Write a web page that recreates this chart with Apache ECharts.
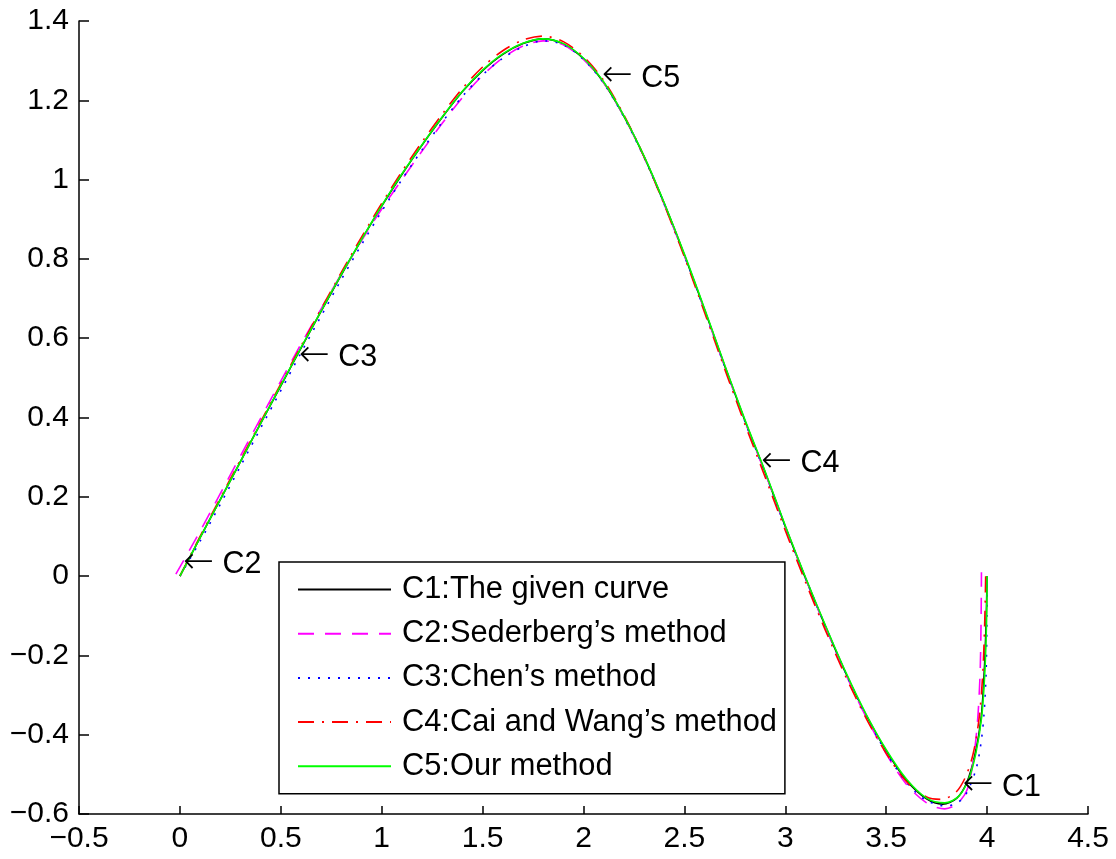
<!DOCTYPE html>
<html>
<head>
<meta charset="utf-8">
<script src="https://cdn.jsdelivr.net/npm/echarts@6/dist/echarts.min.js"></script>
<style>
html,body{margin:0;padding:0;background:#fff;}
#chart{width:1116px;height:859px;}
</style>
</head>
<body>
<div id="chart"></div>
<script>
// ---- data ----
var seriesNames = ["C1:The given curve", "C2:Sederberg\u2019s method", "C3:Chen\u2019s method", "C4:Cai and Wang\u2019s method", "C5:Our method"];

var c1X = [0,0.1,0.2,0.3,0.4,0.5,0.6,0.7,0.8,0.9,1.0,1.1,1.2,1.3,1.4,1.5,1.6,1.7,1.8,1.9,2.0,2.1,2.2,2.3,2.4,2.5,2.6,2.7,2.8,2.9,3.0,3.1,3.2,3.3,3.4,3.5,3.6,3.7,3.78,3.85,3.9,3.94,3.97,3.985,3.995,4.0];
var c1Y = [0,0.097,0.193,0.289,0.385,0.48,0.575,0.668,0.76,0.848,0.933,1.013,1.087,1.157,1.222,1.275,1.316,1.343,1.355,1.342,1.305,1.245,1.16,1.058,0.94,0.81,0.672,0.53,0.392,0.262,0.125,-0.005,-0.128,-0.245,-0.35,-0.44,-0.515,-0.562,-0.575,-0.56,-0.52,-0.45,-0.36,-0.25,-0.12,0];

var c2X = [-0.02,0.1,0.2,0.3,0.4,0.5,0.6,0.7,0.8,0.9,1.0,1.1,1.2,1.3,1.4,1.5,1.6,1.7,1.8,1.9,2.0,2.1,2.2,2.3,2.4,2.5,2.6,2.7,2.8,2.9,3.0,3.1,3.2,3.3,3.4,3.5,3.6,3.7,3.79,3.85,3.9,3.93,3.952,3.965,3.97,3.972];
var c2Y = [0.005,0.113,0.208,0.303,0.398,0.492,0.585,0.674,0.762,0.846,0.926,1.0,1.072,1.142,1.207,1.263,1.307,1.337,1.35,1.34,1.303,1.244,1.16,1.057,0.938,0.808,0.67,0.528,0.39,0.26,0.124,-0.005,-0.13,-0.248,-0.355,-0.448,-0.525,-0.572,-0.587,-0.575,-0.54,-0.47,-0.37,-0.25,-0.12,0.01];

var c3X = [0,0.1,0.2,0.3,0.4,0.5,0.6,0.7,0.8,0.9,1.0,1.1,1.2,1.3,1.4,1.5,1.6,1.7,1.8,1.9,2.0,2.1,2.2,2.3,2.4,2.5,2.6,2.7,2.8,2.9,3.0,3.1,3.2,3.3,3.4,3.5,3.6,3.7,3.8,3.85,3.89,3.944,3.97,3.985,3.995,3.999,4.0];
var c3Y = [0,0.088,0.181,0.277,0.373,0.468,0.563,0.656,0.748,0.836,0.92,1.0,1.075,1.145,1.21,1.264,1.306,1.335,1.35,1.34,1.303,1.243,1.158,1.056,0.938,0.808,0.67,0.528,0.39,0.26,0.124,-0.005,-0.128,-0.245,-0.352,-0.445,-0.52,-0.566,-0.58,-0.572,-0.555,-0.489,-0.42,-0.346,-0.245,-0.12,0];

var c4X = [0,0.1,0.2,0.3,0.4,0.5,0.6,0.7,0.8,0.9,1.0,1.1,1.2,1.3,1.4,1.5,1.6,1.7,1.8,1.9,2.0,2.1,2.2,2.3,2.4,2.5,2.6,2.7,2.8,2.9,3.0,3.1,3.2,3.3,3.4,3.5,3.6,3.7,3.77,3.84,3.89,3.93,3.96,3.978,3.988,3.993];
var c4Y = [0,0.1,0.197,0.293,0.389,0.485,0.58,0.674,0.766,0.855,0.94,1.02,1.095,1.165,1.23,1.284,1.325,1.352,1.362,1.348,1.31,1.25,1.163,1.058,0.937,0.805,0.665,0.522,0.383,0.25,0.115,-0.015,-0.138,-0.254,-0.358,-0.447,-0.518,-0.557,-0.563,-0.548,-0.51,-0.45,-0.36,-0.25,-0.12,0];

var c5X = [0,0.1,0.2,0.3,0.4,0.5,0.6,0.7,0.8,0.9,1.0,1.1,1.2,1.3,1.4,1.5,1.6,1.7,1.8,1.9,2.0,2.1,2.2,2.3,2.4,2.5,2.6,2.7,2.8,2.9,3.0,3.1,3.2,3.3,3.4,3.5,3.6,3.7,3.79,3.86,3.91,3.945,3.973,3.988,3.997,4.0];
var c5Y = [0,0.097,0.193,0.289,0.385,0.481,0.576,0.669,0.761,0.849,0.934,1.014,1.088,1.158,1.223,1.276,1.317,1.344,1.355,1.343,1.306,1.246,1.161,1.059,0.941,0.812,0.674,0.532,0.394,0.264,0.127,-0.003,-0.126,-0.243,-0.348,-0.438,-0.512,-0.56,-0.572,-0.555,-0.51,-0.445,-0.355,-0.25,-0.12,0];

var annotX = [3.878, 0.015, 0.589, 2.88, 2.09];
var annotY = [-0.533, 0.028, 0.55, 0.2825, 1.256];
var annotText = ["C1", "C2", "C3", "C4", "C5"];

var xTicks = {min: -0.5, max: 4.5, interval: 0.5};
var yTicks = {min: -0.6, max: 1.4, interval: 0.2};

// ---- build ----
function zip(xs, ys) {
  var n = Math.min(xs.length, ys.length), out = [];
  for (var i = 0; i < n; i++) out.push([xs[i], ys[i]]);
  return out;
}
var FONT = "'Liberation Sans', Arial, Helvetica, sans-serif";
function fmt(v) {
  var s = String(Math.round(v * 1000) / 1000);
  return s.replace('-', '\u2212');
}
var curveDefs = [
  {x: c1X, y: c1Y, color: '#000000', type: 'solid'},
  {x: c2X, y: c2Y, color: '#ff00ff', type: [16, 11]},
  {x: c3X, y: c3Y, color: '#0000ff', type: [2, 8]},
  {x: c4X, y: c4Y, color: '#ff0000', type: [16, 8, 2, 8]},
  {x: c5X, y: c5Y, color: '#00ff00', type: 'solid'}
];
var series = curveDefs.map(function (d, i) {
  return {
    name: seriesNames[i],
    type: 'line',
    data: zip(d.x, d.y),
    showSymbol: false,
    symbol: 'none',
    smooth: 0.3,
    lineStyle: {color: d.color, width: 1.6, type: d.type},
    itemStyle: {color: d.color},
    animation: false
  };
});
var annotData = annotX.map(function (x, i) { return {value: [x, annotY[i]], name: annotText[i]}; });
series.push({
  name: 'annotations',
  type: 'scatter',
  data: annotData,
  symbolSize: 0,
  silent: true,
  animation: false,
  label: {
    show: true,
    position: 'right',
    distance: 0,
    opacity: 1,
    formatter: function (p) { return '{a|\u2190}{t| ' + p.name + '}'; },
    rich: {
      a: {color: '#000', fontSize: 37, fontFamily: "'DejaVu Sans', sans-serif", fontWeight: 'lighter', padding: [0, 0, 4, 0]},
      t: {color: '#000', fontSize: 30.5, fontFamily: FONT}
    }
  },
  emphasis: {disabled: true},
  z: 10
});

var chart = echarts.init(document.getElementById('chart'), null, {renderer: 'canvas'});
chart.setOption({
  backgroundColor: '#ffffff',
  animation: false,
  grid: {left: 79, right: 28, top: 21, bottom: 45, containLabel: false},
  xAxis: {
    type: 'value',
    min: xTicks.min, max: xTicks.max, interval: xTicks.interval,
    axisLine: {show: true, onZero: false, lineStyle: {color: '#000', width: 1.5}},
    axisTick: {show: true, inside: true, length: 8, lineStyle: {color: '#000', width: 1.5}},
    splitLine: {show: false},
    axisLabel: {color: '#000', fontSize: 30, fontFamily: FONT, margin: 10, formatter: fmt, showMinLabel: true, showMaxLabel: true}
  },
  yAxis: {
    type: 'value',
    min: yTicks.min, max: yTicks.max, interval: yTicks.interval,
    axisLine: {show: true, onZero: false, lineStyle: {color: '#000', width: 1.5}},
    axisTick: {show: true, inside: true, length: 10, lineStyle: {color: '#000', width: 1.5}},
    splitLine: {show: false},
    axisLabel: {color: '#000', fontSize: 30, fontFamily: FONT, margin: 10, formatter: fmt, showMinLabel: true, showMaxLabel: true}
  },
  legend: {
    data: seriesNames,
    orient: 'vertical',
    left: 279,
    top: 562,
    itemWidth: 93,
    itemHeight: 14,
    itemGap: 13.2,
    padding: [12, 8, 12, 18],
    borderColor: '#000',
    borderWidth: 1.5,
    backgroundColor: '#fff',
    selectedMode: false,
    itemStyle: {opacity: 0, borderWidth: 0},
    textStyle: {color: '#000', fontSize: 30.8, fontFamily: FONT, lineHeight: 30, padding: [0, 0, 0, 6]}
  },
  series: series
});
</script>
</body>
</html>
